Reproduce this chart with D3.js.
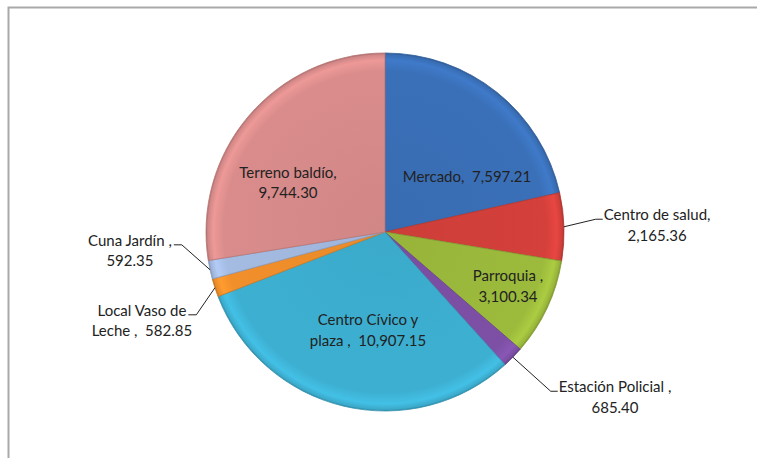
<!DOCTYPE html>
<html>
<head>
<meta charset="utf-8">
<script src="https://cdn.jsdelivr.net/npm/d3@7/dist/d3.min.js"></script>
<style>
  html, body { margin: 0; padding: 0; background: #fff; }
  svg { display: block; }
  text { font-family: Lato, "Open Sans", sans-serif; font-size: 15px; fill: #222; white-space: pre; }
</style>
</head>
<body>
<svg id="chart" width="757" height="458"></svg>
<script>
// Superficie por uso (m²)
const categories = ["Mercado", "Centro de salud", "Parroquia", "Estación Policial",
  "Centro Cívico y plaza", "Local Vaso de Leche", "Cuna Jardín", "Terreno baldío"];
const values = [7597.21, 2165.36, 3100.34, 685.40, 10907.15, 582.85, 592.35, 9744.30];
const colors = ["#3a70b8", "#d4403b", "#9cbb3c", "#7d50a6", "#3db0d2", "#f18f2b", "#a4bbe2", "#d98c8b"];

// Label text lines per slice ({v} is the formatted value)
const labelLines = [
  ["Mercado,  {v}"],
  ["Centro de salud,", "{v}"],
  ["Parroquia ,", "{v}"],
  ["Estación Policial ,", "{v}"],
  ["Centro Cívico y", "plaza ,  {v}"],
  ["Local Vaso de", "Leche ,  {v}"],
  ["Cuna Jardín ,", "{v}"],
  ["Terreno baldío,", "{v}"]
];
// Label anchor, as multiples of the radius from the pie centre; outside labels get a leader line
const labelPos = [
  [0.458, -0.313, false],
  [1.52, -0.042, true],
  [0.687, 0.299, false],
  [1.285, 0.919, true],
  [-0.095, 0.545, false],
  [-1.358, 0.492, true],
  [-1.425, 0.101, true],
  [-0.542, -0.279, false]
];

const svg = d3.select("#chart");
const W = 757, H = 458;
const cx = 385, cy = 232, R = 179;

// Frame of the chart area (top and left edges)
svg.append("path")
  .attr("d", `M8.5,${H} L8.5,7.5 L${W},7.5`)
  .attr("fill", "none").attr("stroke", "#a9a9a9").attr("stroke-width", 2);

const fmt = d3.format(",.2f");
const pie = d3.pie().sort(null).value(d => d)(values);
const arc = d3.arc().innerRadius(0).outerRadius(R);

const defs = svg.append("defs");
colors.forEach((c, i) => {
  const base = d3.color(c);
  const g = defs.append("radialGradient")
    .attr("id", "bevel" + i)
    .attr("gradientUnits", "userSpaceOnUse")
    .attr("cx", 0).attr("cy", 0).attr("r", R);
  g.append("stop").attr("offset", 0).attr("stop-color", base.darker(0.1));
  g.append("stop").attr("offset", 0.9).attr("stop-color", base);
  g.append("stop").attr("offset", 0.96).attr("stop-color", base.brighter(0.25));
  g.append("stop").attr("offset", 0.99).attr("stop-color", base.darker(0.1));
  g.append("stop").attr("offset", 1).attr("stop-color", base.darker(0.7));
});

const g = svg.append("g").attr("transform", `translate(${cx},${cy})`);

g.selectAll("path.slice").data(pie).join("path")
  .attr("class", "slice")
  .attr("d", arc)
  .attr("fill", (d, i) => `url(#bevel${i})`)
  .attr("stroke", (d, i) => d3.color(colors[i]).darker(0.5))
  .attr("stroke-width", 0.8)
  .attr("stroke-linejoin", "round");

// Labels
const lineH = 20.5;
pie.forEach((d, i) => {
  const [fx, fy, outside] = labelPos[i];
  const lx = cx + fx * R, ly = cy + fy * R;
  const lines = labelLines[i].map(s => s.replace("{v}", fmt(values[i])));
  const y0 = ly - (lines.length - 1) * lineH / 2;
  const t = svg.append("text")
    .attr("text-anchor", "middle")
    .attr("dominant-baseline", "central")
    .attr("xml:space", "preserve");
  lines.forEach((s, k) => {
    t.append("tspan").attr("x", lx).attr("y", y0 + k * lineH).text(s);
  });
  if (outside) {
    const w1 = t.select("tspan").node().getComputedTextLength();
    const mid = (d.startAngle + d.endAngle) / 2;
    const sx = cx + Math.sin(mid) * R, sy = cy - Math.cos(mid) * R;
    const hy = y0 + 5;
    const right = fx > 0;
    const ex = right ? lx - w1 / 2 - 1 : lx + w1 / 2 + 2;
    const bx = right ? ex - 7 : ex + 8;
    svg.append("path")
      .attr("d", `M${sx},${sy} L${bx},${hy} L${ex},${hy}`)
      .attr("fill", "none").attr("stroke", "#222").attr("stroke-width", 1);
  }
});
</script>
</body>
</html>
